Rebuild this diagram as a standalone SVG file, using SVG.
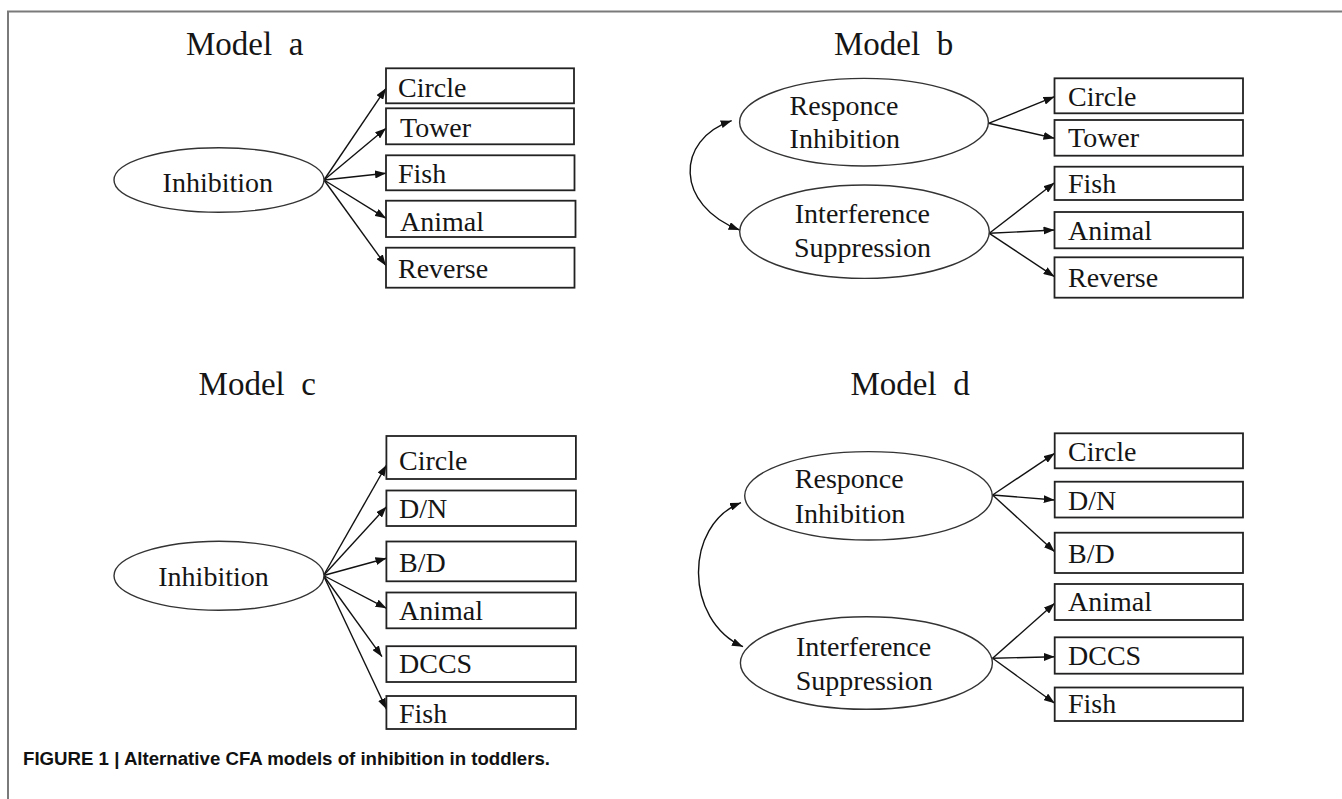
<svg xmlns="http://www.w3.org/2000/svg" width="1342" height="799" viewBox="0 0 1342 799">
  <defs>
    <marker id="arrow" viewBox="0 0 11 8" refX="11" refY="4" markerWidth="11" markerHeight="8" markerUnits="userSpaceOnUse" orient="auto-start-reverse">
      <path d="M0,0 L11,4 L0,8 z" fill="#111"/>
    </marker>
    <style>
      .frame { stroke: #7a7a7a; stroke-width: 2; fill: none; }
      .title { font-family: "Liberation Serif", "Times New Roman", serif; font-size: 33px; fill: #151515; white-space: pre; }
      .lbl { font-family: "Liberation Serif", "Times New Roman", serif; font-size: 28px; fill: #151515; }
      .box { fill: #fff; stroke: #222; stroke-width: 1.8; }
      .lat { fill: #fff; stroke: #333; stroke-width: 1.4; }
      .edge { stroke: #111; stroke-width: 1.4; fill: none; marker-end: url(#arrow); }
      .cov { stroke: #111; stroke-width: 1.4; fill: none; marker-start: url(#arrow); marker-end: url(#arrow); }
      .caption { font-family: "Liberation Sans", Arial, sans-serif; font-weight: bold; font-size: 18px; fill: #111; }
    </style>
  </defs>

  <rect width="1342" height="799" fill="#fff"/>

  <!-- page frame: top rule and left rule -->
  <path class="frame" d="M8,799 L8,11.5 L1342,11.5"/>

  <!-- panel titles -->
  <text class="title" x="186" y="55" xml:space="preserve">Model  a</text>
  <text class="title" x="834" y="55" xml:space="preserve">Model  b</text>
  <text class="title" x="198.6" y="395" xml:space="preserve">Model  c</text>
  <text class="title" x="850.5" y="395" xml:space="preserve">Model  d</text>

  <!-- connectors -->
  <g id="connectors">
    <!-- model a -->
    <line class="edge" x1="324" y1="180" x2="386" y2="88.3"/>
    <line class="edge" x1="324" y1="180" x2="386" y2="128.3"/>
    <line class="edge" x1="324" y1="180" x2="386" y2="173.3"/>
    <line class="edge" x1="324" y1="180" x2="386" y2="218.3"/>
    <line class="edge" x1="324" y1="180" x2="386" y2="265.7"/>
    <!-- model b -->
    <line class="edge" x1="988.5" y1="123.3" x2="1054.5" y2="96.7"/>
    <line class="edge" x1="988.5" y1="123.3" x2="1054.5" y2="138.3"/>
    <line class="edge" x1="989.3" y1="233.3" x2="1054.5" y2="182.7"/>
    <line class="edge" x1="989.3" y1="233.3" x2="1054.5" y2="230"/>
    <line class="edge" x1="989.3" y1="233.3" x2="1054.5" y2="276.7"/>
    <path class="cov" d="M731.7,120.7 C675,140 675,205 739.6,230"/>
    <!-- model c -->
    <line class="edge" x1="323.5" y1="575.5" x2="386.5" y2="465"/>
    <line class="edge" x1="323.5" y1="575.5" x2="386.5" y2="506.7"/>
    <line class="edge" x1="323.5" y1="575.5" x2="386.5" y2="558.3"/>
    <line class="edge" x1="323.5" y1="575.5" x2="386.5" y2="608.3"/>
    <line class="edge" x1="323.5" y1="575.5" x2="382" y2="656.7"/>
    <line class="edge" x1="323.5" y1="575.5" x2="386.5" y2="709.3"/>
    <!-- model d -->
    <line class="edge" x1="992.6" y1="495" x2="1054.7" y2="453.3"/>
    <line class="edge" x1="992.6" y1="495" x2="1054.7" y2="500"/>
    <line class="edge" x1="992.6" y1="495" x2="1054.7" y2="551.7"/>
    <line class="edge" x1="992.6" y1="658.3" x2="1054.7" y2="603.3"/>
    <line class="edge" x1="992.6" y1="658.3" x2="1054.7" y2="656.7"/>
    <line class="edge" x1="992.6" y1="658.3" x2="1054.7" y2="703.3"/>
    <path class="cov" d="M741,502.7 C684,525 684,620 743,646.7"/>
  </g>

  <!-- model a nodes -->
  <g id="a-inhibition">
    <ellipse class="lat" cx="219" cy="180" rx="105" ry="32.3"/>
    <text class="lbl" x="162.6" y="191.7">Inhibition</text>
  </g>
  <g id="a-circle"><rect class="box" x="386" y="68.3" width="188" height="35"/><text class="lbl" x="398" y="96.7">Circle</text></g>
  <g id="a-tower"><rect class="box" x="386" y="108.3" width="188" height="36"/><text class="lbl" x="400" y="136.7">Tower</text></g>
  <g id="a-fish"><rect class="box" x="386" y="155.3" width="188.5" height="35"/><text class="lbl" x="398" y="183.3">Fish</text></g>
  <g id="a-animal"><rect class="box" x="386" y="200.7" width="189.5" height="36.3"/><text class="lbl" x="400" y="231">Animal</text></g>
  <g id="a-reverse"><rect class="box" x="386" y="247.7" width="188.5" height="40"/><text class="lbl" x="398" y="278.3">Reverse</text></g>

  <!-- model b nodes -->
  <g id="b-response">
    <ellipse class="lat" cx="864" cy="122.2" rx="124.4" ry="43.8"/>
    <text class="lbl" x="789.6" y="115">Responce</text>
    <text class="lbl" x="789.6" y="148.3">Inhibition</text>
  </g>
  <g id="b-interference">
    <ellipse class="lat" cx="864.5" cy="231.7" rx="124.8" ry="46.7"/>
    <text class="lbl" x="794.8" y="223.3">Interference</text>
    <text class="lbl" x="794" y="257.3">Suppression</text>
  </g>
  <g id="b-circle"><rect class="box" x="1054.5" y="78.3" width="188.5" height="35"/><text class="lbl" x="1068" y="106">Circle</text></g>
  <g id="b-tower"><rect class="box" x="1054.5" y="120" width="188.5" height="35.7"/><text class="lbl" x="1068" y="146.7">Tower</text></g>
  <g id="b-fish"><rect class="box" x="1054.5" y="166.7" width="188.5" height="33.3"/><text class="lbl" x="1068" y="193.3">Fish</text></g>
  <g id="b-animal"><rect class="box" x="1054.5" y="212" width="188.5" height="36.3"/><text class="lbl" x="1068" y="240">Animal</text></g>
  <g id="b-reverse"><rect class="box" x="1054.5" y="257.3" width="188.5" height="40.4"/><text class="lbl" x="1068" y="287.3">Reverse</text></g>

  <!-- model c nodes -->
  <g id="c-inhibition">
    <ellipse class="lat" cx="219" cy="575.8" rx="105" ry="34.5"/>
    <text class="lbl" x="158.3" y="586">Inhibition</text>
  </g>
  <g id="c-circle"><rect class="box" x="386.4" y="436" width="189.5" height="43"/><text class="lbl" x="399" y="470">Circle</text></g>
  <g id="c-dn"><rect class="box" x="386.4" y="490.5" width="189.5" height="35.5"/><text class="lbl" x="399" y="518.3">D/N</text></g>
  <g id="c-bd"><rect class="box" x="386.4" y="541.5" width="189.5" height="39.8"/><text class="lbl" x="399" y="571.7">B/D</text></g>
  <g id="c-animal"><rect class="box" x="386.4" y="592.5" width="189.5" height="35.8"/><text class="lbl" x="399" y="620">Animal</text></g>
  <g id="c-dccs"><rect class="box" x="386.4" y="646.2" width="189.5" height="35.8"/><text class="lbl" x="399" y="673.3">DCCS</text></g>
  <g id="c-fish"><rect class="box" x="386.4" y="696" width="189.5" height="33"/><text class="lbl" x="399" y="722.7">Fish</text></g>

  <!-- model d nodes -->
  <g id="d-response">
    <ellipse class="lat" cx="868.5" cy="495.8" rx="123.8" ry="44.2"/>
    <text class="lbl" x="794.8" y="488.3">Responce</text>
    <text class="lbl" x="794.8" y="522.7">Inhibition</text>
  </g>
  <g id="d-interference">
    <ellipse class="lat" cx="866.4" cy="663" rx="126" ry="46.3"/>
    <text class="lbl" x="796" y="656">Interference</text>
    <text class="lbl" x="795.8" y="690">Suppression</text>
  </g>
  <g id="d-circle"><rect class="box" x="1054.7" y="433.3" width="188.3" height="35"/><text class="lbl" x="1068" y="460.7">Circle</text></g>
  <g id="d-dn"><rect class="box" x="1054.7" y="481.7" width="188.3" height="35.8"/><text class="lbl" x="1068" y="510">D/N</text></g>
  <g id="d-bd"><rect class="box" x="1054.7" y="532.7" width="188.3" height="40.3"/><text class="lbl" x="1068" y="563.3">B/D</text></g>
  <g id="d-animal"><rect class="box" x="1054.7" y="584" width="188.3" height="36"/><text class="lbl" x="1068" y="610.7">Animal</text></g>
  <g id="d-dccs"><rect class="box" x="1054.7" y="637.3" width="188.3" height="36.4"/><text class="lbl" x="1068" y="665">DCCS</text></g>
  <g id="d-fish"><rect class="box" x="1054.7" y="687.5" width="188.3" height="33.5"/><text class="lbl" x="1068" y="713.3">Fish</text></g>

  <!-- caption -->
  <text class="caption" x="23" y="765" textLength="527" lengthAdjust="spacingAndGlyphs">FIGURE 1 | Alternative CFA models of inhibition in toddlers.</text>
</svg>
